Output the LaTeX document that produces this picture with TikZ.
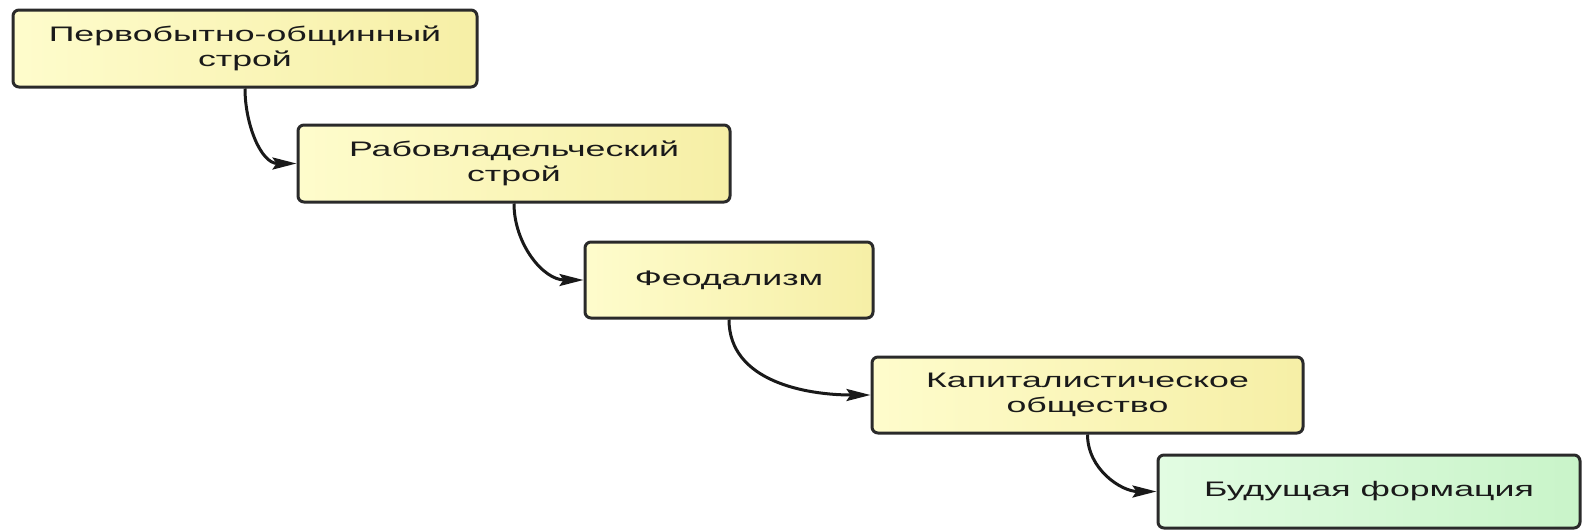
\documentclass[tikz,border=0pt]{standalone}
\usepackage{fontspec}
\setmainfont{Liberation Sans}
\usetikzlibrary{arrows.meta}
\definecolor{yA}{HTML}{FEFCCC}
\definecolor{yB}{HTML}{F6EFA6}
\definecolor{gA}{HTML}{E2FCE2}
\definecolor{gB}{HTML}{C9F4C9}
\definecolor{edge}{HTML}{2A2A2A}
\definecolor{txt}{HTML}{1A1A1A}
\newcommand\sx[1]{\scalebox{1.7}[1]{#1}}
\tikzset{
  stage/.style={draw=edge, line width=3pt, rounded corners=6pt, align=center,
    font=\fontsize{21}{25}\selectfont, text=txt, inner sep=0pt,
    left color=yA, right color=yB},
  future/.style={stage, left color=gA, right color=gB},
  link/.style={draw=black!90, line width=3pt, -{Stealth[length=24pt,width=12pt,inset=4pt]}, out=-90, in=180}
}
\begin{document}
\begin{tikzpicture}[x=1pt,y=-1pt]
\useasboundingbox (0,0) rectangle (1584,530);
\node[stage, minimum width=464pt, minimum height=77pt] (a) at (245,48.5) {\sx{Первобытно-общинный}\\\sx{строй}};
\node[stage, minimum width=432pt, minimum height=77pt] (b) at (514,163.5) {\sx{Рабовладельческий}\\\sx{строй}};
\node[stage, minimum width=288pt, minimum height=76pt] (c) at (729,280) {\sx{Феодализм}};
\node[stage, minimum width=431pt, minimum height=76pt] (d) at (1087.5,395) {\sx{Капиталистическое}\\\sx{общество}};
\node[future, minimum width=422pt, minimum height=73pt] (e) at (1369,491.5) {\sx{Будущая формация}};
\draw[link] (a.south) to (b.west);
\draw[link] (b.south) to (c.west);
\draw[link] (c.south) to (d.west);
\draw[link] (d.south) to (e.west);
\end{tikzpicture}
\end{document}
